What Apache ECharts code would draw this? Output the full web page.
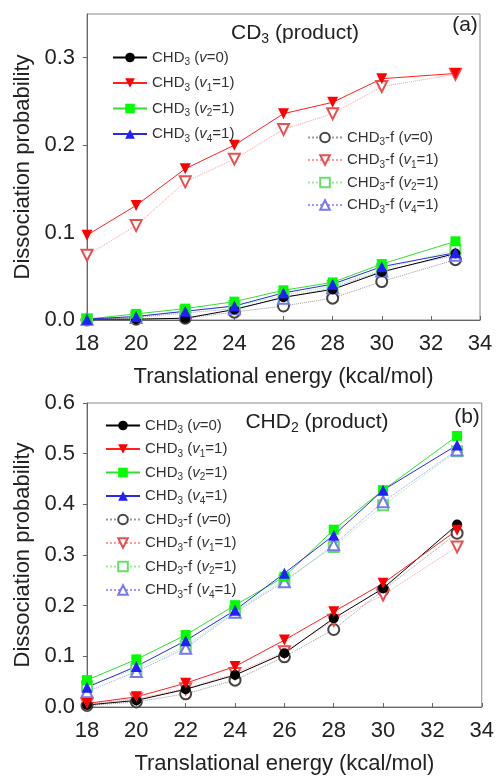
<!DOCTYPE html>
<html>
<head>
<meta charset="utf-8">
<script src="https://cdn.jsdelivr.net/npm/echarts@6/dist/echarts.min.js"></script>
<style>
  html, body { margin: 0; padding: 0; background: #fff; }
  #chart { width: 497px; height: 776px; }
</style>
</head>
<body>
<div id="chart"></div>
<script>
// translational energies (kcal/mol)
var energies = [18, 20, 22, 24, 26, 28, 30, 33];

// (a) CD3 product
var cd3_v0 = [0.001, 0.001, 0.002, 0.012, 0.026, 0.035, 0.055, 0.076];
var cd3_v1 = [0.097, 0.131, 0.173, 0.200, 0.236, 0.249, 0.276, 0.282];
var cd3_v2 = [0.001, 0.007, 0.013, 0.021, 0.034, 0.043, 0.064, 0.090];
var cd3_v4 = [0.001, 0.004, 0.010, 0.016, 0.031, 0.041, 0.061, 0.077];
var cd3_f_v0 = [0.000, 0.001, 0.002, 0.009, 0.016, 0.025, 0.044, 0.069];
var cd3_f_v1 = [0.074, 0.108, 0.158, 0.184, 0.218, 0.236, 0.267, 0.281];
var cd3_f_v2 = [0.001, 0.004, 0.010, 0.016, 0.028, 0.039, 0.058, 0.080];
var cd3_f_v4 = [0.001, 0.003, 0.008, 0.013, 0.025, 0.037, 0.056, 0.074];

// (b) CHD2 product
var chd2_v0 = [0.004, 0.013, 0.035, 0.063, 0.106, 0.175, 0.234, 0.360];
var chd2_v1 = [0.007, 0.020, 0.047, 0.080, 0.132, 0.188, 0.244, 0.349];
var chd2_v2 = [0.053, 0.094, 0.142, 0.201, 0.257, 0.350, 0.428, 0.535];
var chd2_v4 = [0.039, 0.080, 0.131, 0.191, 0.264, 0.339, 0.428, 0.517];
var chd2_f_v0 = [0.003, 0.010, 0.026, 0.053, 0.099, 0.153, 0.231, 0.343];
var chd2_f_v1 = [0.006, 0.016, 0.036, 0.066, 0.109, 0.171, 0.221, 0.316];
var chd2_f_v2 = [0.042, 0.075, 0.120, 0.190, 0.250, 0.316, 0.398, 0.505];
var chd2_f_v4 = [0.030, 0.070, 0.116, 0.187, 0.247, 0.320, 0.405, 0.507];

var names = ['CHD3 (v=0)', 'CHD3 (v1=1)', 'CHD3 (v2=1)', 'CHD3 (v4=1)',
             'CHD3-f (v=0)', 'CHD3-f (v1=1)', 'CHD3-f (v2=1)', 'CHD3-f (v4=1)'];
var labels = {
  'CHD3 (v=0)': 'CHD{s|3} ({i|v}=0)',
  'CHD3 (v1=1)': 'CHD{s|3} ({i|v}{s|1}=1)',
  'CHD3 (v2=1)': 'CHD{s|3} ({i|v}{s|2}=1)',
  'CHD3 (v4=1)': 'CHD{s|3} ({i|v}{s|4}=1)',
  'CHD3-f (v=0)': 'CHD{s|3}-f ({i|v}=0)',
  'CHD3-f (v1=1)': 'CHD{s|3}-f ({i|v}{s|1}=1)',
  'CHD3-f (v2=1)': 'CHD{s|3}-f ({i|v}{s|2}=1)',
  'CHD3-f (v4=1)': 'CHD{s|3}-f ({i|v}{s|4}=1)'
};

var FONT = 'Liberation Sans';

// marker / line look for each of the 8 series
var looks = [
  { symbol: 'circle', color: '#000000', line: '#000000', type: 'solid', size: 10 },
  { symbol: 'triangle', rot: 180, color: '#ff0000', line: '#ff2020', type: 'solid', size: 11 },
  { symbol: 'rect', color: '#00ff00', line: '#33dd33', type: 'solid', size: 10 },
  { symbol: 'triangle', color: '#1f1fff', line: '#2a2ae0', type: 'solid', size: 11 },
  { symbol: 'emptyCircle', color: '#444444', line: '#999999', type: 'dotted', size: 11 },
  { symbol: 'emptyTriangle', rot: 180, color: '#e85050', line: '#ff9a9a', type: 'dotted', size: 11 },
  { symbol: 'emptyRect', color: '#66e066', line: '#99ee99', type: 'dotted', size: 10 },
  { symbol: 'emptyTriangle', color: '#7777ee', line: '#9999ff', type: 'dotted', size: 11 }
];

function makeSeries(vals, panel) {
  var out = [];
  // open symbols first so filled ones sit on top
  var order = [4, 5, 6, 7, 0, 1, 2, 3];
  order.forEach(function (k) {
    var lk = looks[k];
    out.push({
      name: names[k],
      type: 'line',
      xAxisIndex: panel,
      yAxisIndex: panel,
      data: energies.map(function (e, i) { return [e, vals[k][i]]; }),
      symbol: lk.symbol,
      symbolRotate: lk.rot || 0,
      symbolSize: lk.size,
      itemStyle: { color: lk.color, borderWidth: 1 },
      lineStyle: { color: lk.line, width: 1, type: lk.type },
      emphasis: { disabled: true }
    });
  });
  return out;
}

var rich = {
  s: { fontSize: 10, fontFamily: FONT, color: '#333', padding: [10, 0, 0, 0] },
  i: { fontSize: 15, fontFamily: FONT, color: '#333', fontStyle: 'italic' }
};

function legend(data, left, top, gap) {
  return {
    data: data,
    orient: 'vertical',
    left: left,
    top: top,
    itemWidth: 34,
    itemHeight: 12,
    itemGap: gap,
    selectedMode: false,
    textStyle: { fontFamily: FONT, fontSize: 15, color: '#333', rich: rich },
    formatter: function (n) { return labels[n]; }
  };
}

function xAxis(idx) {
  return {
    type: 'value', gridIndex: idx, min: 18, max: 34, interval: 2,
    name: 'Translational energy (kcal/mol)', nameLocation: 'middle', nameGap: 46,
    nameTextStyle: { fontFamily: FONT, fontSize: 22, color: '#222' },
    axisLine: { lineStyle: { color: '#666', width: 1 } },
    axisTick: { inside: true, length: 4, lineStyle: { color: '#666' } },
    axisLabel: { fontFamily: FONT, fontSize: 22, color: '#222', margin: 13 },
    splitLine: { show: false }
  };
}

function yAxis(idx, max, gap) {
  return {
    type: 'value', gridIndex: idx, min: 0, max: max, interval: 0.1,
    name: 'Dissociation probability', nameLocation: 'middle', nameGap: gap,
    nameTextStyle: { fontFamily: FONT, fontSize: 22, color: '#222' },
    axisLine: { show: true, lineStyle: { color: '#666', width: 1 } },
    axisTick: { show: true, inside: false, length: 4, lineStyle: { color: '#666' } },
    axisLabel: {
      fontFamily: FONT, fontSize: 22, color: '#222', margin: 12, showMaxLabel: max === 0.6,
      formatter: function (v) { return v.toFixed(1); }
    },
    splitLine: { show: false }
  };
}

var titleRich = {
  s: { fontSize: 14, fontFamily: FONT, fill: '#222', padding: [12, 0, 0, 0] }
};

var chart = echarts.init(document.getElementById('chart'), null, { renderer: 'canvas' });
chart.setOption({
  animation: false,
  backgroundColor: '#fff',
  grid: [
    { left: 87, top: 14, width: 393, height: 306, show: true, borderColor: '#888', borderWidth: 1 },
    { left: 87, top: 403, width: 396, height: 304, show: true, borderColor: '#888', borderWidth: 1 }
  ],
  xAxis: [xAxis(0), xAxis(1)],
  yAxis: [yAxis(0, 0.35, 47), yAxis(1, 0.6, 45)],
  legend: [
    legend(names.slice(0, 4), 107, 45, 8),
    legend(names.slice(4), 302, 125, 5),
    legend(names, 100, 413, 6)
  ],
  graphic: [
    { type: 'text', x: 295, y: 33, style: { text: 'CD{s|3} (product)', rich: titleRich, fontFamily: FONT, fontSize: 21, fill: '#222', align: 'center', verticalAlign: 'middle' } },
    { type: 'text', x: 465, y: 25, style: { text: '(a)', fontFamily: FONT, fontSize: 21, fill: '#222', align: 'center', verticalAlign: 'middle' } },
    { type: 'text', x: 317, y: 422, style: { text: 'CHD{s|2} (product)', rich: titleRich, fontFamily: FONT, fontSize: 21, fill: '#222', align: 'center', verticalAlign: 'middle' } },
    { type: 'text', x: 467, y: 417, style: { text: '(b)', fontFamily: FONT, fontSize: 21, fill: '#222', align: 'center', verticalAlign: 'middle' } }
  ],
  series: makeSeries([cd3_v0, cd3_v1, cd3_v2, cd3_v4, cd3_f_v0, cd3_f_v1, cd3_f_v2, cd3_f_v4], 0)
    .concat(makeSeries([chd2_v0, chd2_v1, chd2_v2, chd2_v4, chd2_f_v0, chd2_f_v1, chd2_f_v2, chd2_f_v4], 1))
});
</script>
</body>
</html>
